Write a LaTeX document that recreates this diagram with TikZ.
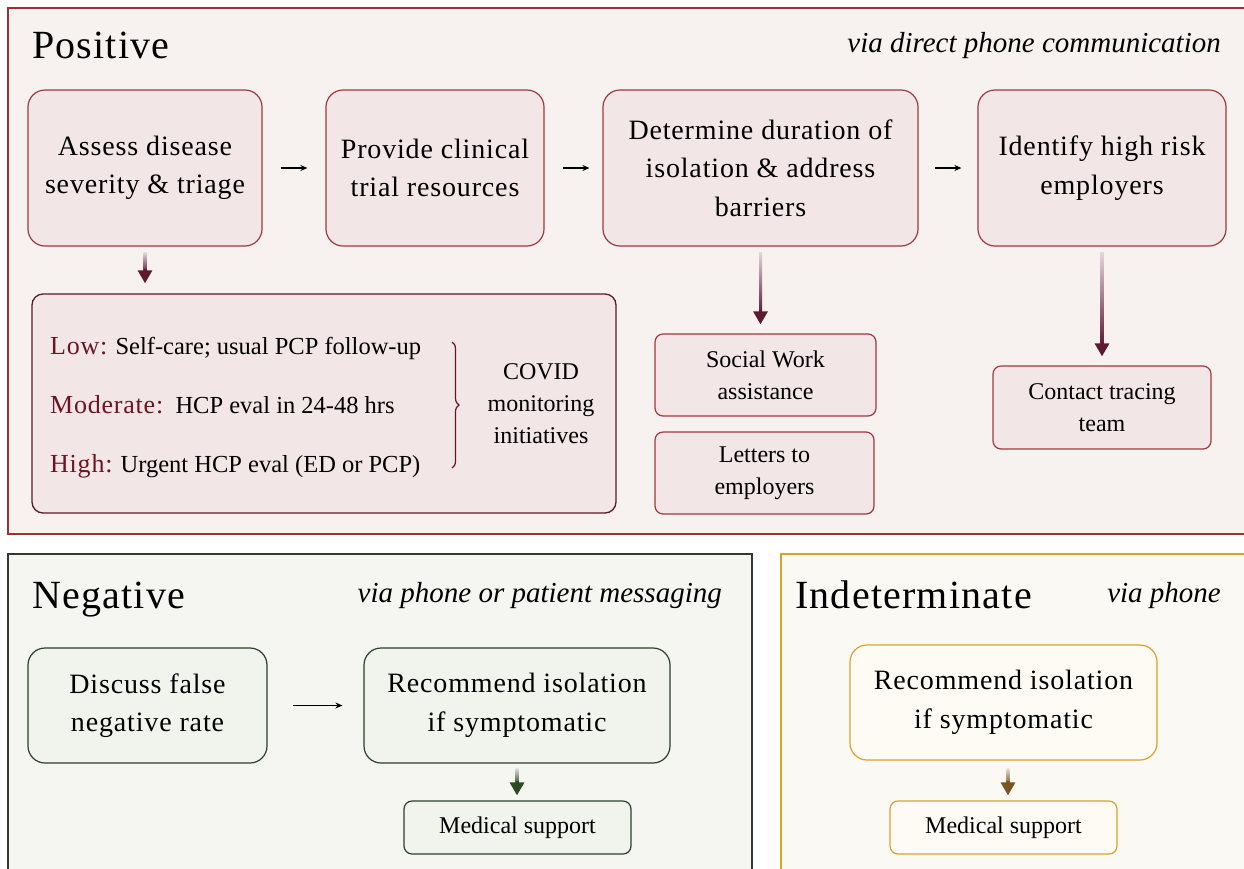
\documentclass[tikz,border=0pt]{standalone}
\usepackage{fontspec}
\setmainfont{Liberation Serif}
\newfontfamily\spacedserif[LetterSpace=3]{Liberation Serif}
\usetikzlibrary{arrows.meta,decorations.pathreplacing,calc}
\definecolor{posborder}{HTML}{9E2F33}
\definecolor{posfill}{HTML}{F7F2EF}
\definecolor{posbox}{HTML}{F2E6E6}
\definecolor{posboxb}{HTML}{A0393C}
\definecolor{lowb}{HTML}{5B1A26}
\definecolor{posarrow}{HTML}{5C1A33}
\definecolor{labred}{HTML}{6B1520}
\definecolor{negborder}{HTML}{2E3B2E}
\definecolor{negfill}{HTML}{F5F6F1}
\definecolor{negbox}{HTML}{F1F3ED}
\definecolor{negboxb}{HTML}{2B3F2B}
\definecolor{negarrow}{HTML}{2C4A22}
\definecolor{indborder}{HTML}{D9A22A}
\definecolor{indfill}{HTML}{FAF9F4}
\definecolor{indbox}{HTML}{FDFBF3}
\definecolor{indarrow}{HTML}{7A5520}
\newcommand{\mybig}{\spacedserif\fontsize{28}{38.5}\selectfont}
\newcommand{\mysmall}{\fontsize{24}{32}\selectfont}
\newcommand{\mylow}{\fontsize{24.5}{32}\selectfont}
\newcommand{\mytitle}{\spacedserif\fontsize{40}{48}\selectfont}
\newcommand{\mysub}{\itshape\fontsize{29}{34}\selectfont}
\newcommand{\mylab}[1]{{\spacedserif\color{labred}\fontsize{26}{32}\selectfont #1}}
% gradient arrow: colour, start coordinate, end coordinate
\newcommand{\gradarrow}[3]{%
  \shade[top color=#1!18, bottom color=#1] ($(#2)+(-1.5,0)$) rectangle ($(#3)+(1.5,-11)$);
  \draw[-{Triangle[length=13pt,width=14pt]}, line width=3pt, #1] ($(#3)+(0,-14)$) -- (#3);}
\tikzset{
  panel/.style={draw=#1, line width=1.3pt},
  bigbox/.style={draw=#1, line width=1.2pt, rounded corners=17pt, align=center, inner sep=0pt, font=\mybig},
  smallbox/.style={draw=#1, line width=1.2pt, rounded corners=8pt, align=center, inner sep=0pt, font=\mysmall},
  flow/.style={-{Stealth[length=7pt,width=6pt]}, line width=1.3pt, black},
  titletext/.style={anchor=base west, inner sep=0pt, font=\mytitle},
  subtext/.style={anchor=base east, inner sep=0pt, font=\mysub}
}
\begin{document}
\begin{tikzpicture}[x=1pt,y=-1pt]
\useasboundingbox (0,0) rectangle (1244,868);
\clip (0,0) rectangle (1244,868);
\fill[white] (0,0) rectangle (1244,868);
% ---------- Positive panel
\filldraw[panel=posborder, fill=posfill] (8,8) rectangle (1260,534);
\node[titletext] (ptitle) at (32,58) {Positive};
\node[subtext] (psub) at (1221,52) {via direct phone communication};
\node[bigbox=posboxb, fill=posbox, minimum width=234pt, minimum height=156pt] (b1) at (145,168) {Assess disease\\severity \& triage};
\node[bigbox=posboxb, fill=posbox, minimum width=218pt, minimum height=156pt] (b2) at (435,168) {Provide clinical\\trial resources};
\node[bigbox=posboxb, fill=posbox, minimum width=315pt, minimum height=156pt] (b3) at (760.5,168) {Determine duration of\\isolation \& address\\barriers};
\node[bigbox=posboxb, fill=posbox, minimum width=248pt, minimum height=156pt] (b4) at (1102,168) {Identify high risk\\employers};
\draw[flow, shorten <=18pt, shorten >=18pt] (b1.east) -- (b2.west);
\draw[flow, shorten <=18pt, shorten >=13pt] (b2.east) -- (b3.west);
\draw[flow, shorten <=16pt, shorten >=16pt] (b3.east) -- (b4.west);
% low box
\node[draw=lowb, line width=1.3pt, fill=posbox, rounded corners=11pt, minimum width=584pt, minimum height=219pt, inner sep=0pt] (low) at (324,403.5) {};
\node[anchor=base west, inner sep=0pt, font=\mylow] (tlow) at (50,354) {\mylab{Low:} Self-care; usual PCP follow-up};
\node[anchor=base west, inner sep=0pt, font=\mylow] (tmod) at (50,413) {\mylab{Moderate:}\ \ HCP eval in 24-48 hrs};
\node[anchor=base west, inner sep=0pt, font=\mylow] (thigh) at (50,472) {\mylab{High:} Urgent HCP eval (ED or PCP)};
\coordinate (bt) at (452,342);
\coordinate (bb) at (452,468);
\draw[labred, line width=1.2pt, decorate, decoration={brace, amplitude=7pt}] (bt) -- (bb);
\node[align=center, inner sep=0pt, font=\mysmall] (covid) at (541,404) {COVID\\monitoring\\initiatives};
\coordinate (a1s) at ($(b1.south)+(0,6)$);
\coordinate (a1e) at ($(b1.south|-low.north)+(0,-10)$);
\gradarrow{posarrow}{a1s}{a1e}
% social / letters
\node[smallbox=posboxb, fill=posbox, minimum width=221pt, minimum height=82pt] (social) at (765.5,375) {Social Work\\assistance};
\node[smallbox=posboxb, fill=posbox, minimum width=219pt, minimum height=82pt] (letters) at (764.5,473) {Letters to\\employers};
\coordinate (a2s) at ($(b3.south)+(0,6)$);
\coordinate (a2e) at ($(b3.south|-social.north)+(0,-9)$);
\gradarrow{posarrow}{a2s}{a2e}
\node[smallbox=posboxb, fill=posbox, minimum width=218pt, minimum height=83pt] (contact) at (1102,407.5) {Contact tracing\\team};
\coordinate (a3s) at ($(b4.south)+(0,6)$);
\coordinate (a3e) at ($(contact.north)+(0,-9)$);
\gradarrow{posarrow}{a3s}{a3e}
% ---------- Negative panel
\filldraw[panel=negborder, fill=negfill] (8,554) rectangle (752,880);
\node[titletext] (ntitle) at (32,608) {Negative};
\node[subtext] (nsub) at (722,602) {via phone or patient messaging};
\node[bigbox=negboxb, fill=negbox, minimum width=239pt, minimum height=115pt] (n1) at (147.5,705.5) {Discuss false\\negative rate};
\node[bigbox=negboxb, fill=negbox, minimum width=306pt, minimum height=115pt] (n2) at (517,705.5) {Recommend isolation\\if symptomatic};
\draw[flow, shorten <=25pt, shorten >=21pt] (n1.east) -- (n2.west);
\node[smallbox=negboxb, fill=negbox, minimum width=227pt, minimum height=53pt] (n3) at (517.5,827.5) {Medical support};
\coordinate (a4s) at ($(n2.south)+(0,5)$);
\coordinate (a4e) at ($(n2.south|-n3.north)+(0,-5)$);
\gradarrow{negarrow}{a4s}{a4e}
% ---------- Indeterminate panel
\filldraw[panel=indborder, fill=indfill] (781,554) rectangle (1260,880);
\node[titletext] (ititle) at (795,608) {Indeterminate};
\node[subtext] (isub) at (1221,602) {via phone};
\node[bigbox=indborder, fill=indbox, minimum width=307pt, minimum height=115pt] (i1) at (1003.5,702.5) {Recommend isolation\\if symptomatic};
\node[smallbox=indborder, fill=indbox, minimum width=227pt, minimum height=53pt] (i2) at (1003.5,827.5) {Medical support};
\coordinate (a5s) at ($(i1.south)+(4.5,8)$);
\coordinate (a5e) at ($(i2.north)+(4.5,-5)$);
\gradarrow{indarrow}{a5s}{a5e}
\end{tikzpicture}
\end{document}
